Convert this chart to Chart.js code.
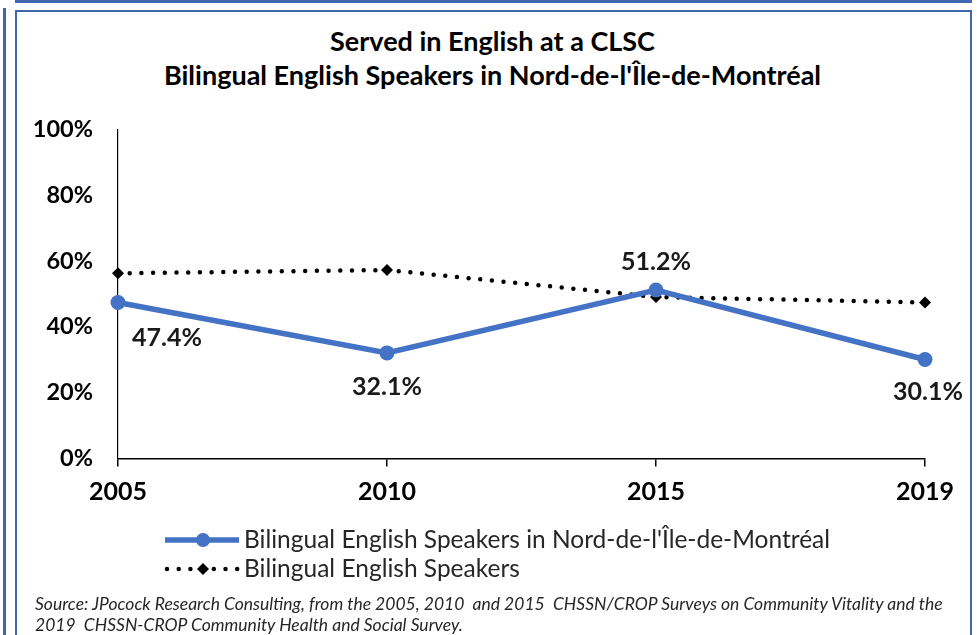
<!DOCTYPE html>
<html lang="en">
<head>
    <meta charset="UTF-8">
    <title>Served in English at a CLSC</title>
    <script src="https://cdn.jsdelivr.net/npm/chart.js"></script>
    <style>
        body {
            margin: 0;
            width: 977px;
            height: 635px;
            overflow: hidden;
            background: #fff;
            position: relative;
            font-family: Lato, sans-serif;
        }
        .edge { position: absolute; background: #4166b0; }
        .frame {
            position: absolute;
            left: 15px;
            top: 10px;
            width: 957px;
            height: 640px;
            border: 2.5px solid #4166b0;
            box-sizing: border-box;
        }
        .title {
            position: absolute;
            left: 15px;
            width: 955px;
            top: 24px;
            text-align: center;
            font-weight: bold;
            font-size: 27px;
            line-height: 34px;
            color: #000;
        }
        .source {
            position: absolute;
            left: 35px;
            top: 593px;
            font-style: italic;
            font-size: 17.5px;
            line-height: 21px;
            color: #262626;
            white-space: nowrap;
        }
        canvas { position: absolute; left: 0; top: 0; }
    </style>
</head>
<body>
    <div class="edge" style="left:15px; top:0; width:957px; height:2.5px;"></div>
    <div class="edge" style="left:3px; top:8px; width:2.5px; height:627px;"></div>
    <div class="frame"></div>
    <div class="title">Served in English at a CLSC<br>Bilingual English Speakers in Nord-de-l'Île-de-Montréal</div>
    <canvas id="lineChart" width="977" height="635"></canvas>
    <div class="source">Source: JPocock Research Consulting, from the 2005, 2010&nbsp; and 2015&nbsp; CHSSN/CROP Surveys on Community Vitality and the<br>2019&nbsp; CHSSN-CROP Community Health and Social Survey.</div>

    <script>
        // values
        const years = ["2005", "2010", "2015", "2019"];
        const northMontreal = [47.4, 32.1, 51.2, 30.1];
        const allBilingual = [56.3, 57.3, 49.1, 47.4];
        const yTicks = [0, 20, 40, 60, 80, 100];

        const seriesNames = [
            "Bilingual English Speakers in Nord-de-l'Île-de-Montréal",
            "Bilingual English Speakers"
        ];

        // label placement for the blue series: dx, dy from the point
        const labelOffsets = [[49, 35], [0, 34], [0, -28], [3, 32]];

        const labelPlugin = {
            id: "pointLabels",
            afterDatasetsDraw(chart) {
                const ctx = chart.ctx;
                const meta = chart.getDatasetMeta(0);
                ctx.save();
                ctx.font = "bold 25px Lato";
                ctx.fillStyle = "#1a1a1a";
                ctx.textAlign = "center";
                ctx.textBaseline = "middle";
                meta.data.forEach((pt, i) => {
                    const off = labelOffsets[i];
                    ctx.fillText(northMontreal[i].toFixed(1) + "%", pt.x + off[0], pt.y + off[1]);
                });
                ctx.restore();
            }
        };

        const legendPlugin = {
            id: "sideLegend",
            afterDraw(chart) {
                const ctx = chart.ctx;
                const ds = chart.data.datasets;
                ctx.save();

                // blue line with circle
                let y = 540;
                ctx.strokeStyle = ds[0].borderColor;
                ctx.lineWidth = ds[0].borderWidth;
                ctx.beginPath();
                ctx.moveTo(165, y);
                ctx.lineTo(239, y);
                ctx.stroke();
                ctx.fillStyle = ds[0].pointBackgroundColor;
                ctx.beginPath();
                ctx.arc(203, y, 7, 0, Math.PI * 2);
                ctx.fill();

                // dotted line with diamond
                y = 569;
                ctx.strokeStyle = ds[1].borderColor;
                ctx.lineWidth = ds[1].borderWidth;
                ctx.lineCap = "round";
                ctx.setLineDash(ds[1].borderDash);
                ctx.beginPath();
                ctx.moveTo(167, y);
                ctx.lineTo(240, y);
                ctx.stroke();
                ctx.setLineDash([]);
                ctx.fillStyle = "#000";
                ctx.beginPath();
                ctx.moveTo(203, y - 6);
                ctx.lineTo(209, y);
                ctx.lineTo(203, y + 6);
                ctx.lineTo(197, y);
                ctx.closePath();
                ctx.fill();

                ctx.font = "24.5px Lato";
                ctx.fillStyle = "#262626";
                ctx.textAlign = "left";
                ctx.textBaseline = "middle";
                ctx.fillText(seriesNames[0], 244, 540);
                ctx.fillText(seriesNames[1], 244, 569);
                ctx.restore();
            }
        };

        let ctx1 = document.getElementById("lineChart").getContext("2d");
        let lineChart = new Chart(ctx1, {
            type: "line",
            data: {
                labels: years,
                datasets: [{
                    label: seriesNames[0],
                    data: northMontreal,
                    borderColor: "#4472c4",
                    borderWidth: 5.5,
                    pointRadius: 7.5,
                    pointBackgroundColor: "#4472c4",
                    pointBorderWidth: 0,
                    tension: 0,
                    clip: false,
                    order: 0
                }, {
                    label: seriesNames[1],
                    data: allBilingual,
                    borderColor: "#000",
                    borderWidth: 4.5,
                    borderDash: [0, 11.7],
                    borderCapStyle: "round",
                    pointStyle: "rectRot",
                    pointRadius: 6,
                    pointBackgroundColor: "#000",
                    pointBorderWidth: 0,
                    tension: 0,
                    clip: false,
                    order: 1
                }]
            },
            options: {
                responsive: false,
                animation: false,
                devicePixelRatio: 1,
                layout: { padding: { left: 0, top: 129.5, right: 52, bottom: 0 } },
                plugins: {
                    legend: { display: false },
                    tooltip: { enabled: false }
                },
                scales: {
                    x: {
                        afterFit(scale) { scale.height = 635 - 458.5; },
                        grid: {
                            drawOnChartArea: false,
                            drawTicks: true,
                            tickLength: 8,
                            color: "#000",
                            lineWidth: 1.5
                        },
                        border: { display: true, color: "#000", width: 1.5 },
                        ticks: {
                            color: "#000",
                            padding: 10,
                            maxRotation: 0,
                            font: { family: "Lato", size: 25, weight: "bold" }
                        }
                    },
                    y: {
                        min: 0,
                        max: 100,
                        afterFit(scale) { scale.width = 118; },
                        afterBuildTicks(scale) {
                            scale.ticks = yTicks.map(v => ({ value: v }));
                        },
                        grid: { display: false, drawTicks: false },
                        border: { display: true, color: "#000", width: 1.2 },
                        ticks: {
                            color: "#000",
                            padding: 25,
                            font: { family: "Lato", size: 23.5, weight: "bold" },
                            callback: v => v + "%"
                        }
                    }
                }
            },
            plugins: [labelPlugin, legendPlugin]
        });
    </script>
</body>
</html>
